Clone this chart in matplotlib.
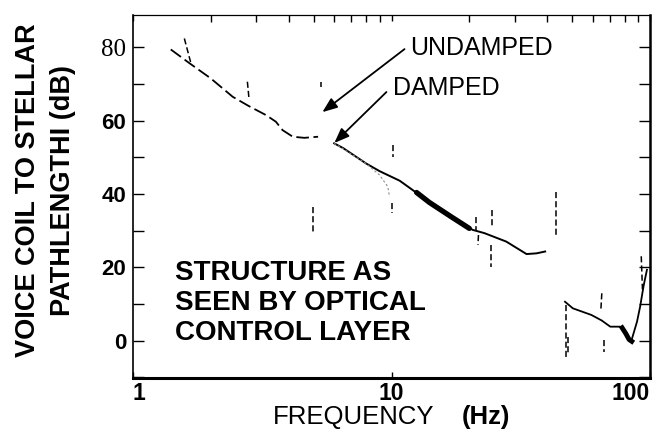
import matplotlib
matplotlib.use("Agg")
import matplotlib.pyplot as plt
from matplotlib.ticker import FixedLocator, NullFormatter

# ---- data ----
undamped_f = [1.40, 1.65, 2.0, 2.43, 2.8, 3.27, 3.57, 3.79, 4.15, 4.6, 5.2]
undamped_db = [79.4, 75.7, 71.5, 66.5, 64.0, 61.5, 59.7, 57.4, 55.6, 55.3, 55.6]

damped_f = [6.0, 6.5, 7.98, 9.0, 10.76, 12.0, 14.0, 17.0, 20.6, 22.9, 27.8, 33.3, 36.4, 39.3]
damped_db = [53.8, 52.5, 48.3, 46.2, 43.6, 41.2, 37.7, 33.8, 30.2, 29.3, 27.0, 23.6, 23.8, 24.3]

thick_f = [12.5, 14.0, 17.0, 20.0]
thick_db = [40.4, 37.7, 33.8, 30.6]

faint_f = [6.0, 6.47, 7.97, 8.98, 9.67, 9.83]
faint_db = [53.8, 52.4, 48.3, 45.2, 42.0, 39.2]

high_f = [46.9, 50.3, 59.3, 65.0, 70.2, 76.5, 79.5, 82.1, 84.5, 89.1, 91.6, 94.5, 97.3]
high_db = [10.6, 8.8, 7.0, 5.5, 3.8, 3.8, 2.5, 0.6, -0.3, 5.2, 9.3, 15.0, 19.3]

blob_f = [78.0, 80.5, 83.0, 85.0]
blob_db = [3.5, 2.0, 0.3, -0.2]

# spikes: (f_top, db_top, f_bottom, db_bottom)
spike_f1 = [1.58, 2.77, 5.34, 10.1, 4.95, 10.05, 21.2, 24.5, 21.7, 24.2, 43.2, 47.5, 48.3, 65.1, 66.3, 92.5]
spike_top = [82.4, 70.6, 70.6, 53.3, 36.5, 37.5, 33.8, 35.6, 28.8, 26.1, 40.6, 9.7, 1.0, 12.9, 0.2, 23.0]
spike_f2 = [1.67, 2.81, 5.34, 10.1, 4.95, 10.05, 21.2, 24.5, 21.6, 24.2, 43.2, 47.5, 48.3, 64.5, 66.3, 93.5]
spike_bot = [76.0, 66.0, 69.2, 50.1, 29.7, 34.8, 30.2, 31.1, 26.1, 20.2, 28.3, -5.3, -4.0, 7.9, -3.0, 14.0]

y_ticks = [0, 20, 40, 60, 80]
y_minor = [-10, 10, 30, 50, 70]
x_ticks = [1, 10, 100]
x_labels = ["1", "10", "100"]

W, H = 665, 443
fig = plt.figure(figsize=(W / 100, H / 100), dpi=100)
ax = fig.add_axes([133 / W, 1 - 378 / H, (650 - 133) / W, (378 - 15) / H])

ax.set_xscale("log")
ax.set_xlim(1, 100)
ax.set_ylim(-10.2, 88.8)

ax.plot(undamped_f, undamped_db, color="black", lw=1.3, dashes=(7, 2.5))
ax.plot(damped_f, damped_db, color="black", lw=1.4)
ax.plot(thick_f, thick_db, color="black", lw=3.8, solid_capstyle="round")
ax.plot(faint_f, faint_db, color="0.55", lw=0.8, dashes=(2, 2))
ax.plot(high_f, high_db, color="black", lw=1.3)
ax.plot(blob_f, blob_db, color="black", lw=3.5)
for a, b, c, d in zip(spike_f1, spike_top, spike_f2, spike_bot):
    ax.plot([a, c], [b, d], color="black", lw=1.1, dashes=(4, 2))

# spines
for s in ["left", "right", "bottom", "top"]:
    ax.spines[s].set_color("black")
ax.spines["left"].set_linewidth(1.2)
ax.spines["right"].set_linewidth(1.8)
ax.spines["bottom"].set_linewidth(2.2)
ax.spines["top"].set_linewidth(0.9)

# ticks
ax.xaxis.set_major_locator(FixedLocator(x_ticks))
ax.set_xticklabels(x_labels)
ax.xaxis.set_minor_locator(FixedLocator([2, 3, 4, 5, 6, 7, 8, 9, 20, 30, 40, 50, 60, 70, 80, 90]))
ax.xaxis.set_minor_formatter(NullFormatter())
ax.tick_params(axis="x", which="major", direction="in", length=4, width=1,
               bottom=True, top=True, pad=3)
ax.tick_params(axis="x", which="minor", direction="in", length=5, width=1,
               bottom=False, top=True)

ax.yaxis.set_major_locator(FixedLocator(y_ticks))
ax.set_yticklabels([str(v) for v in y_ticks])
ax.yaxis.set_minor_locator(FixedLocator(y_minor))
ax.yaxis.set_minor_formatter(NullFormatter())
ax.tick_params(axis="y", which="both", direction="in", length=8, width=1,
               left=True, right=True, pad=5)

for lab in ax.get_yticklabels():
    if lab.get_text() == "80":
        lab.set_fontfamily("Liberation Serif")
        lab.set_fontweight("normal")
        lab.set_fontsize(18)
    else:
        lab.set_fontfamily("Liberation Sans")
        lab.set_fontweight("bold")
        lab.set_fontsize(16)

xl = ax.get_xticklabels()
for lab in xl:
    lab.set_fontfamily("Liberation Sans")
    lab.set_fontweight("bold")
    lab.set_fontsize(16.5)
xl[0].set_ha("left")
xl[-1].set_ha("right")

# annotations
ax.annotate("", xy=(5.40, 62.3), xytext=(11.23, 79.5),
            arrowprops=dict(arrowstyle="-|>,head_length=0.9,head_width=0.35",
                            color="black", lw=1.3, shrinkA=0, shrinkB=0))
ax.annotate("", xy=(6.01, 53.9), xytext=(9.56, 67.8),
            arrowprops=dict(arrowstyle="-|>,head_length=0.9,head_width=0.35",
                            color="black", lw=1.3, shrinkA=0, shrinkB=0))
ax.text(11.85, 79.7, "UNDAMPED", fontfamily="Liberation Sans", fontsize=18,
        ha="left", va="center", color="black")
ax.text(10.09, 68.9, "DAMPED", fontfamily="Liberation Sans", fontsize=18,
        ha="left", va="center", color="black")

for txt, ypix in [("STRUCTURE AS", 273), ("SEEN BY OPTICAL", 303), ("CONTROL LAYER", 333)]:
    fig.text(175 / W, 1 - ypix / H, txt, fontfamily="Liberation Sans",
             fontweight="bold", fontsize=20, ha="left", va="center")

# axis labels
fig.text(28 / W, 1 - 190 / H, "VOICE COIL TO STELLAR", rotation=90,
         fontfamily="Liberation Sans", fontweight="bold", fontsize=19.5,
         ha="center", va="center")
fig.text(63 / W, 1 - 190 / H, "PATHLENGTHI (dB)", rotation=90,
         fontfamily="Liberation Sans", fontweight="bold", fontsize=19.5,
         ha="center", va="center")
fig.text(273 / W, 1 - 417 / H, "FREQUENCY", fontfamily="Liberation Sans",
         fontsize=18.5, ha="left", va="center")
fig.text(462 / W, 1 - 417 / H, "(Hz)", fontfamily="Liberation Sans",
         fontweight="bold", fontsize=18.5, ha="left", va="center")

fig.savefig("out.png", dpi=100, facecolor="white")
